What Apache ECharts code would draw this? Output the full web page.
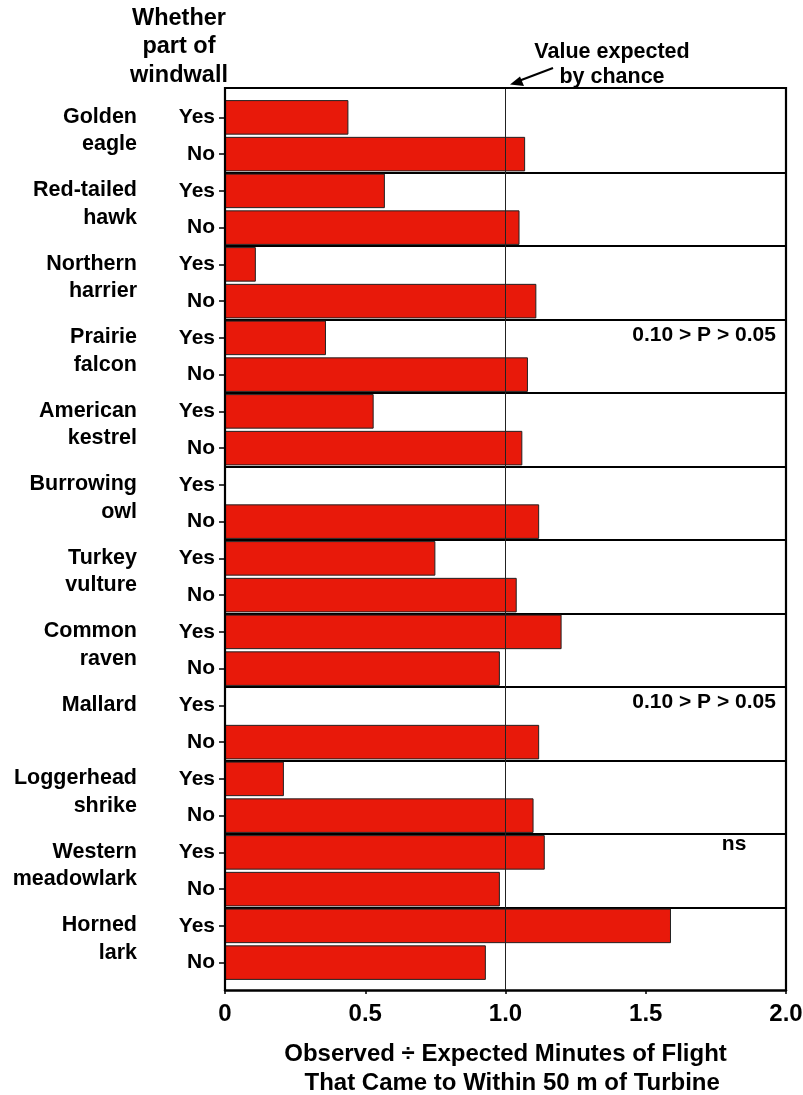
<!DOCTYPE html>
<html>
<head>
<meta charset="utf-8">
<script src="https://cdn.jsdelivr.net/npm/echarts@6/dist/echarts.min.js"></script>
<style>
html,body{margin:0;padding:0;background:#fff;}
#chart{width:803px;height:1095px;}
</style>
</head>
<body>
<div id="chart"></div>
<script>
// ---- data ----
const species = ['Golden\neagle', 'Red-tailed\nhawk', 'Northern\nharrier', 'Prairie\nfalcon',
  'American\nkestrel', 'Burrowing\nowl', 'Turkey\nvulture', 'Common\nraven', 'Mallard',
  'Loggerhead\nshrike', 'Western\nmeadowlark', 'Horned\nlark'];
const windwallLevels = ['Yes', 'No'];
const yesValues = [0.44, 0.57, 0.11, 0.36, 0.53, 0, 0.75, 1.20, 0, 0.21, 1.14, 1.59];
const noValues  = [1.07, 1.05, 1.11, 1.08, 1.06, 1.12, 1.04, 0.98, 1.12, 1.10, 0.98, 0.93];
const xTicks = [0, 0.5, 1.0, 1.5, 2.0];
const xTickLabels = ['0', '0.5', '1.0', '1.5', '2.0'];
const chanceValue = 1.0;
const annotations = [
  { species: 3, text: '0.10 > P > 0.05' },
  { species: 8, text: '0.10 > P > 0.05' },
  { species: 10, text: 'ns' }
];

// ---- build ----
const rowLabels = [];
const rowValues = [];
species.forEach((s, i) => {
  rowLabels.push(windwallLevels[0]); rowValues.push(yesValues[i]);
  rowLabels.push(windwallLevels[1]); rowValues.push(noValues[i]);
});

const FONT = '"Liberation Sans", Arial, sans-serif';
const chart = echarts.init(document.getElementById('chart'), null, { renderer: 'canvas' });

const gridLeft = 225, gridRightPx = 786, gridTop = 99, gridBottomPx = 981;
const frameTop = 88, frameBottom = 990;

function speciesLabel(v) {
  const lines = v.split('\n');
  if (lines.length < 2) lines.push(' ');
  return lines.map(l => '{a|' + l + '}').join('\n') + '\n{s| }';
}

chart.setOption({
  backgroundColor: '#ffffff',
  animation: false,
  grid: { left: gridLeft, right: 803 - gridRightPx, top: gridTop, bottom: 1095 - gridBottomPx,
    containLabel: false, outerBoundsMode: 'none' },
  xAxis: {
    type: 'value', min: 0, max: 2, interval: 0.5,
    offset: frameBottom - gridBottomPx,
    axisLine: { show: true, lineStyle: { color: '#000', width: 2.5 } },
    axisTick: { show: true, length: 4, lineStyle: { color: '#000', width: 1.5 } },
    splitLine: { show: false },
    axisLabel: {
      margin: 12, fontFamily: FONT, fontWeight: 'bold', fontSize: 24, color: '#000',
      formatter: v => { const i = xTicks.indexOf(v); return i >= 0 ? xTickLabels[i] : ''; }
    },
    name: 'Observed \u00f7 Expected Minutes of Flight\n  That Came to Within 50 m of Turbine',
    nameLocation: 'middle', nameGap: 50,
    nameTextStyle: { fontFamily: FONT, fontWeight: 'bold', fontSize: 24, color: '#000', lineHeight: 29 }
  },
  yAxis: [
    {
      type: 'category', inverse: true, data: rowLabels,
      axisLine: { show: false },
      axisTick: { show: true, alignWithLabel: true, length: 6, lineStyle: { color: '#000', width: 1.5 } },
      axisLabel: { margin: 10, interval: 0, fontFamily: FONT, fontWeight: 'bold', fontSize: 21, color: '#000' },
      splitLine: { show: false }
    },
    {
      type: 'category', inverse: true, data: species, position: 'left',
      axisLine: { show: false }, axisTick: { show: false },
      axisLabel: {
        margin: 88, interval: 0, showMinLabel: true, showMaxLabel: true, hideOverlap: false,
        align: 'right', formatter: speciesLabel,
        rich: {
          a: { fontFamily: FONT, fontWeight: 'bold', fontSize: 21.5, color: '#000', lineHeight: 27.5, align: 'right' },
          s: { fontSize: 4, lineHeight: 10, align: 'right' }
        }
      },
      splitLine: { show: true, showMinLine: false, showMaxLine: false, interval: 0,
        lineStyle: { color: '#000', width: 2 } }
    }
  ],
  series: [{
    type: 'bar', yAxisIndex: 0, data: rowValues,
    barCategoryGap: '6%',
    itemStyle: { color: '#E8190A', borderColor: '#222', borderWidth: 1 },
    z: 2
  }]
});

function px(x, row) { return chart.convertToPixel({ gridIndex: 0 }, [x, row]); }
const left = px(0, 0)[0], right = px(2, 0)[0], chanceX = px(chanceValue, 0)[0];

const graphics = [
  { type: 'polyline', shape: { points: [[left, frameBottom], [left, frameTop], [right, frameTop], [right, frameBottom]] },
    style: { fill: null, stroke: '#000', lineWidth: 2.2 }, z: 10 },
  { type: 'line', shape: { x1: chanceX, y1: frameTop, x2: chanceX, y2: frameBottom },
    style: { stroke: '#222', lineWidth: 1 }, z: 9 },
  { type: 'text', x: 179, y: 4, style: { text: 'Whether\npart of\nwindwall', fill: '#000',
    font: 'bold 23.5px ' + FONT, textAlign: 'center', textVerticalAlign: 'top', lineHeight: 28.5 }, z: 10 },
  { type: 'text', x: 612, y: 40, style: { text: 'Value expected\nby chance', fill: '#000',
    font: 'bold 21.5px ' + FONT, textAlign: 'center', textVerticalAlign: 'top', lineHeight: 24.5 }, z: 10 },
  { type: 'line', shape: { x1: 553, y1: 68, x2: 518, y2: 81.3 },
    style: { stroke: '#000', lineWidth: 2 }, z: 10 },
  { type: 'polygon', shape: { points: [[510, 84.5], [520, 76.5], [524, 86]] },
    style: { fill: '#000' }, z: 10 }
];
annotations.forEach(a => {
  const yesRow = a.species * 2;
  if (a.text === 'ns') {
    const p = px(1.815, yesRow);
    graphics.push({ type: 'text', x: p[0], y: p[1] - 8, style: { text: a.text, fill: '#000',
      font: 'bold 21px ' + FONT, textAlign: 'center', textVerticalAlign: 'middle' }, z: 10 });
  } else {
    const p = px(1.964, yesRow);
    graphics.push({ type: 'text', x: p[0], y: p[1] - 3, style: { text: a.text, fill: '#000',
      font: 'bold 21px ' + FONT, textAlign: 'right', textVerticalAlign: 'middle' }, z: 10 });
  }
});
chart.setOption({ graphic: graphics });
</script>
</body>
</html>
